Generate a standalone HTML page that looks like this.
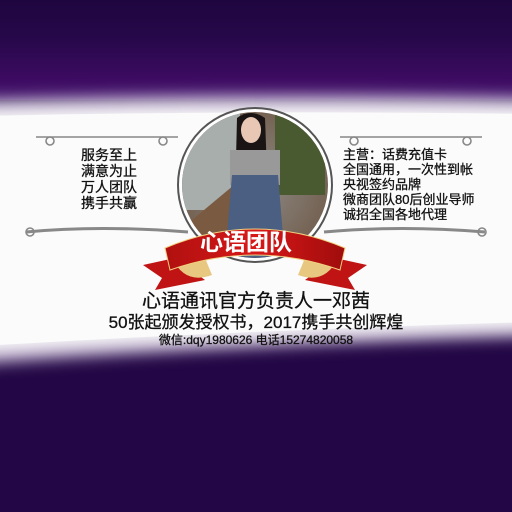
<!DOCTYPE html>
<html><head><meta charset="utf-8"><style>
html,body{margin:0;padding:0}
body{width:512px;height:512px;position:relative;overflow:hidden;background:#220645;font-family:"Liberation Sans","Noto Sans CJK SC",sans-serif}
.abs{position:absolute}
.t{color:#111;white-space:nowrap;line-height:1;-webkit-text-stroke:0.3px #111}
</style></head><body>
<svg class="abs" style="left:0;top:0" width="512" height="512">
<defs>
<linearGradient id="bg" x1="0" y1="0" x2="0" y2="1">
<stop offset="0" stop-color="#1f0540"/><stop offset="0.35" stop-color="#250848"/><stop offset="0.8" stop-color="#3d0b62"/><stop offset="1" stop-color="#40106a"/></linearGradient>
<filter id="blur"><feGaussianBlur stdDeviation="8"/></filter>
<radialGradient id="ph" cx="0.5" cy="0.5" r="0.6"><stop offset="0" stop-color="#8e8a86"/><stop offset="1" stop-color="#6f5a48"/></radialGradient>
<linearGradient id="rib" x1="0" y1="0" x2="1" y2="0"><stop offset="0" stop-color="#b01010"/><stop offset="0.5" stop-color="#d81818"/><stop offset="1" stop-color="#a00c0c"/></linearGradient>
<clipPath id="cc"><circle cx="255" cy="185" r="73"/></clipPath>
</defs>
<rect width="512" height="512" fill="#220645"/>
<rect width="512" height="100" fill="url(#bg)"/>
<path d="M-20,100 Q250,92 532,98 L532,336 Q250,344 -20,364 Z" fill="#b8a8c8" filter="url(#blur)"/>
<path d="M-20,110 Q250,104 532,108 L532,328 Q250,336 -20,352 Z" fill="#fbfbfb" filter="url(#blur)"/>
<path d="M-20,116 Q250,110 532,114 L532,322 Q250,330 -20,346 Z" fill="#fbfbfb"/>
<g>
<circle cx="255" cy="185" r="77" fill="#fff" stroke="#555" stroke-width="2"/>
<g clip-path="url(#cc)">
<rect x="180" y="110" width="150" height="150" fill="url(#ph)"/>
<rect x="180" y="110" width="60" height="100" fill="#a7aeab"/>
<path d="M180,230 L240,180 L240,260 L180,260Z" fill="#7a5a40"/>
<rect x="275" y="115" width="50" height="80" fill="#4a5a30"/>
<path d="M237,118 Q250,108 265,118 L268,200 L235,200Z" fill="#1a1414"/>
<ellipse cx="251" cy="130" rx="10" ry="13" fill="#e8c8b4"/>
<rect x="230" y="150" width="50" height="35" fill="#999"/>
<path d="M232,175 L278,175 L285,260 L225,260Z" fill="#4a5f82"/>
</g></g>
<g stroke="#888" fill="none" stroke-width="1.6">
<path d="M36,137 H178 M340,137 H482"/>
<circle cx="50" cy="141" r="4"/><circle cx="163" cy="141" r="4"/><circle cx="354" cy="141" r="4"/><circle cx="467" cy="141" r="4"/>
<path d="M26,232 Q100,225 188,232 M324,232 Q400,225 485,232" stroke-width="3"/>
<circle cx="30" cy="232" r="4"/><circle cx="482" cy="232" r="4"/>
</g>
<g>
<path d="M143,265 L175,258 L205,280 L155,290 L162,278Z" fill="#c01414"/>
<path d="M367,265 L335,258 L305,280 L355,290 L348,278Z" fill="#c01414"/>
<path d="M172,258 Q185,285 212,275 L205,258Z" fill="#e8c880"/>
<path d="M338,258 Q325,285 298,275 L305,258Z" fill="#e8c880"/>
<path d="M165,248 Q255,210 345,248 L340,270 Q255,240 170,270Z" fill="url(#rib)" stroke="#f0d080" stroke-width="1"/>
</g>
</svg>
<div class="abs t" style="left:200px;top:231px;font-size:23px;font-weight:bold;color:#fff;-webkit-text-stroke:0">心语团队</div>
<div class="abs t" style="left:81px;top:147px;font-size:14px;line-height:16px">服务至上<br>满意为止<br>万人团队<br>携手共赢</div>
<div class="abs t" style="left:343px;top:147px;font-size:13px;line-height:15px">主营：话费充值卡<br>全国通用，一次性到帐<br>央视签约品牌<br>微商团队80后创业导师<br>诚招全国各地代理</div>
<div class="abs t" style="left:0;width:512px;text-align:center;top:292px;font-size:19px">心语通讯官方负责人一邓茜</div>
<div class="abs t" style="left:0;width:512px;text-align:center;top:314px;font-size:17px">50张起颁发授权书，2017携手共创辉煌</div>
<div class="abs t" style="left:0;width:512px;text-align:center;top:334px;font-size:12px">微信:dqy1980626 电话15274820058</div>
</body></html>
